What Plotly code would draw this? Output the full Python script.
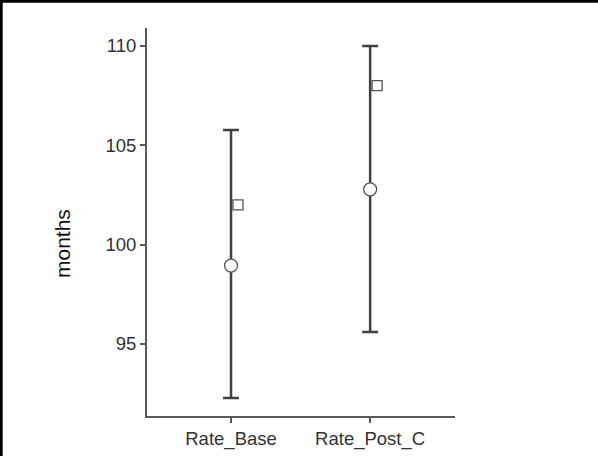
import plotly.graph_objects as go

# Summary statistics per measure
categories = ["Rate_Base", "Rate_Post_C"]
means = [98.94, 102.78]
ci_lower = [92.28, 95.6]
ci_upper = [105.76, 110.0]
reference = [102.0, 108.0]
y_ticks = [95, 100, 105, 110]

W, H = 598, 456
L, R, T, B = 147, 143, 28, 40
pw, ph = W - L - R, H - T - B

x_idx = list(range(len(categories)))
err_plus = [u - m for u, m in zip(ci_upper, means)]
err_minus = [m - l for m, l in zip(means, ci_lower)]

fig = go.Figure()

fig.add_trace(go.Scatter(
    x=x_idx, y=means, mode="markers",
    error_y=dict(type="data", symmetric=False, array=err_plus, arrayminus=err_minus,
                 color="#404040", thickness=2.5, width=8),
    marker=dict(symbol="circle", size=13, color="white",
                line=dict(color="#555555", width=1.3)),
    showlegend=False,
))

fig.add_trace(go.Scatter(
    x=[i + 0.05 for i in x_idx], y=reference, mode="markers",
    marker=dict(symbol="square", size=10, color="white",
                line=dict(color="#555555", width=1.3)),
    showlegend=False,
))

axis_font = dict(family="Liberation Sans, Arial, sans-serif", size=18.5, color="#333333")

fig.update_xaxes(
    range=[-0.604, 1.61], tickvals=x_idx, ticktext=categories,
    showgrid=False, zeroline=False, showline=True, linecolor="#5a5a5a", linewidth=2,
    ticks="outside", ticklen=5, tickwidth=2, tickcolor="#5a5a5a",
    tickfont=axis_font, fixedrange=True, automargin=False,
)
fig.update_yaxes(
    range=[91.37, 110.9], tickvals=y_ticks,
    showgrid=False, zeroline=False, showline=True, linecolor="#5a5a5a", linewidth=2,
    ticks="outside", ticklen=5, tickwidth=2, tickcolor="#5a5a5a",
    tickfont=axis_font, fixedrange=True, automargin=False,
)

# Axis title
fig.add_annotation(
    text="months", textangle=-90, showarrow=False,
    xref="paper", yref="paper", xanchor="center", yanchor="middle",
    x=(62 - L) / pw, y=(H - B - 244) / ph,
    font=dict(family="Liberation Sans, Arial, sans-serif", size=21, color="#111111"),
)

# Frame lines along the top and left edges of the page
fig.add_shape(type="line", xref="paper", yref="paper",
              x0=-L / pw, x1=(W - L) / pw, y0=(H - B - 1.2) / ph, y1=(H - B - 1.2) / ph,
              line=dict(color="black", width=3))
fig.add_shape(type="line", xref="paper", yref="paper",
              x0=(1.2 - L) / pw, x1=(1.2 - L) / pw, y0=-B / ph, y1=(H - B) / ph,
              line=dict(color="black", width=3))

fig.update_layout(
    width=W, height=H,
    margin=dict(l=L, r=R, t=T, b=B, autoexpand=False),
    paper_bgcolor="white", plot_bgcolor="white",
)

fig.write_html("out.html", config={"displayModeBar": False})
